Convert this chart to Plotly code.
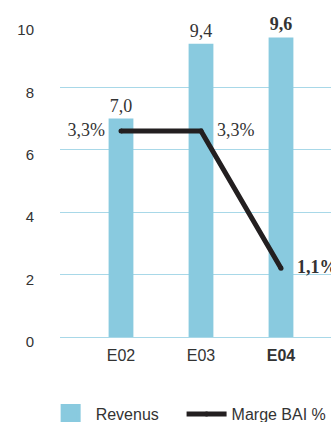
import plotly.graph_objects as go

categories = ["E02", "E03", "E04"]
revenus = [7.0, 9.4, 9.6]
revenus_labels = ["7,0", "9,4", "<b>9,6</b>"]
marge = [3.3, 3.3, 1.1]
marge_labels = ["3,3%", "3,3%", "<b>1,1%</b>"]
tick_labels = ["E02", "E03", "<b>E04</b>"]

bar_color = "#89cadf"
grid_color = "#a8d8e8"
line_color = "#231f20"
text_color = "#333333"

fig = go.Figure()
fig.add_trace(go.Bar(
    x=categories, y=revenus, name="Revenus", showlegend=False,
    marker=dict(color=bar_color, line=dict(width=0)),
    width=0.31,
    text=revenus_labels, textposition="outside",
    textfont=dict(family="Liberation Serif", size=18, color=text_color),
    cliponaxis=False,
))
# legend entry for the bars (larger square swatch)
fig.add_trace(go.Scatter(
    x=[None], y=[None], name="Revenus&nbsp;&nbsp;&nbsp;&nbsp;", mode="markers",
    marker=dict(symbol="square", size=16, color=bar_color,
                line=dict(color=bar_color, width=4)),
))
fig.add_trace(go.Scatter(
    x=categories, y=marge, name="Marge BAI %", yaxis="y2",
    mode="lines+markers",
    line=dict(color=line_color, width=5),
    marker=dict(color=line_color, size=5),
    cliponaxis=False,
))
fig.add_trace(go.Scatter(
    x=categories, y=marge, yaxis="y2", showlegend=False,
    mode="markers+text",
    marker=dict(color="rgba(0,0,0,0)", size=24),
    text=marge_labels, textposition=["middle left", "middle right", "middle right"],
    textfont=dict(family="Liberation Serif", size=18, color=text_color),
    cliponaxis=False, hoverinfo="skip",
))

fig.update_layout(
    width=331, height=422,
    margin=dict(l=60, r=0, t=25, b=85, autoexpand=False),
    paper_bgcolor="white", plot_bgcolor="white",
    font=dict(family="Liberation Sans", size=16, color=text_color),
    showlegend=True,
    legend=dict(orientation="h", x=-0.053, xanchor="left", y=-0.247, yanchor="middle",
                font=dict(family="Liberation Sans", size=16, color=text_color),
                itemwidth=40, traceorder="normal"),
    xaxis=dict(
        type="category", range=[-0.7625, 2.625],
        tickvals=categories, ticktext=tick_labels,
        ticks="outside", ticklen=4, tickcolor="rgba(0,0,0,0)",
        showgrid=False, showline=True, linecolor=grid_color, linewidth=1,
        tickfont=dict(family="Liberation Sans", size=16, color=text_color),
    ),
    yaxis=dict(
        range=[0, 10], tickvals=[0, 2, 4, 6, 8, 10],
        showgrid=True, gridcolor=grid_color, gridwidth=1,
        zeroline=False, showline=False,
        ticks="outside", ticklen=22, tickcolor="rgba(0,0,0,0)",
        ticklabelshift=5,
        tickfont=dict(family="Liberation Sans", size=15, color=text_color),
    ),
    yaxis2=dict(range=[0, 5], overlaying="y", side="right", visible=False),
)

fig.write_html("out.html")
